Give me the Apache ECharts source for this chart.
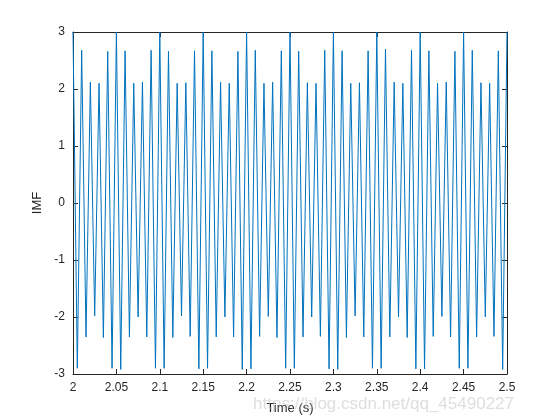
<!DOCTYPE html>
<html>
<head>
<meta charset="utf-8">
<script src="https://cdn.jsdelivr.net/npm/echarts@6/dist/echarts.min.js"></script>
<style>
  html, body { margin: 0; padding: 0; background: #fff; }
  #chart { width: 560px; height: 420px; }
</style>
</head>
<body>
<div id="chart"></div>
<script>
// sample times (s) at each peak / trough
const times = [
  2.000, 2.005, 2.010, 2.015, 2.020, 2.025, 2.030, 2.035, 2.040, 2.045,
  2.050, 2.055, 2.060, 2.065, 2.070, 2.075, 2.080, 2.085, 2.090, 2.095,
  2.100, 2.105, 2.110, 2.115, 2.120, 2.125, 2.130, 2.135, 2.140, 2.145,
  2.150, 2.155, 2.160, 2.165, 2.170, 2.175, 2.180, 2.185, 2.190, 2.195,
  2.200, 2.205, 2.210, 2.215, 2.220, 2.225, 2.230, 2.235, 2.240, 2.245,
  2.250, 2.255, 2.260, 2.265, 2.270, 2.275, 2.280, 2.285, 2.290, 2.295,
  2.300, 2.305, 2.310, 2.315, 2.320, 2.325, 2.330, 2.335, 2.340, 2.345,
  2.350, 2.355, 2.360, 2.365, 2.370, 2.375, 2.380, 2.385, 2.390, 2.395,
  2.400, 2.405, 2.410, 2.415, 2.420, 2.425, 2.430, 2.435, 2.440, 2.445,
  2.450, 2.455, 2.460, 2.465, 2.470, 2.475, 2.480, 2.485, 2.490, 2.495,
  2.500
]
// IMF values
const imf = [
  3.00, -2.90, 2.68, -2.35, 2.12, -1.98, 2.10, -2.36, 2.66, -2.90,
  3.00, -2.92, 2.67, -2.35, 2.10, -2.00, 2.12, -2.35, 2.68, -2.90,
  3.00, -2.90, 2.66, -2.36, 2.10, -1.98, 2.11, -2.34, 2.67, -2.91,
  3.00, -2.90, 2.67, -2.35, 2.12, -2.00, 2.10, -2.35, 2.66, -2.92,
  3.00, -2.91, 2.68, -2.34, 2.10, -1.99, 2.12, -2.36, 2.67, -2.90,
  3.00, -2.90, 2.66, -2.35, 2.11, -2.00, 2.10, -2.34, 2.68, -2.91,
  3.00, -2.92, 2.67, -2.36, 2.10, -1.98, 2.11, -2.35, 2.67, -2.90,
  3.00, -2.90, 2.70, -2.35, 2.12, -2.00, 2.10, -2.36, 2.68, -2.91,
  3.00, -2.91, 2.67, -2.34, 2.10, -1.99, 2.12, -2.35, 2.66, -2.90,
  3.00, -2.90, 2.68, -2.35, 2.11, -2.00, 2.10, -2.34, 2.67, -2.92,
  3.00
]
const xTicks = { min: 2, max: 2.5, step: 0.05 }
const yTicks = { min: -3, max: 3, step: 1 }

const axisColor = '#262626'
const font = 'Liberation Sans, Arial, sans-serif'

const chart = echarts.init(document.getElementById('chart'))
const option = {
  backgroundColor: '#fff',
  animation: false,
  grid: { left: 73, right: 53, top: 32, bottom: 46 },
  xAxis: [
    {
      type: 'value',
      min: xTicks.min,
      max: xTicks.max,
      interval: xTicks.step,
      name: 'Time (s)',
      nameLocation: 'middle',
      nameGap: 28,
      nameTextStyle: { color: axisColor, fontSize: 13, fontFamily: font },
      axisLine: { show: true, onZero: false, lineStyle: { color: axisColor, width: 1 } },
      axisTick: { show: true, inside: true, length: 5, lineStyle: { color: axisColor } },
      axisLabel: {
        color: axisColor, fontSize: 12, fontFamily: font, margin: 8,
        formatter: v => String(Math.round(v * 100) / 100)
      },
      splitLine: { show: false }
    },
    {
      type: 'value',
      position: 'top',
      min: xTicks.min,
      max: xTicks.max,
      interval: xTicks.step,
      axisLine: { show: true, onZero: false, lineStyle: { color: axisColor, width: 1 } },
      axisTick: { show: true, inside: true, length: 5, lineStyle: { color: axisColor } },
      axisLabel: { show: false },
      splitLine: { show: false }
    }
  ],
  yAxis: [
    {
      type: 'value',
      min: yTicks.min,
      max: yTicks.max,
      interval: yTicks.step,
      name: 'IMF',
      nameLocation: 'middle',
      nameGap: 28,
      nameTextStyle: { color: axisColor, fontSize: 13, fontFamily: font },
      axisLine: { show: true, onZero: false, lineStyle: { color: axisColor, width: 1 } },
      axisTick: { show: true, inside: true, length: 5, lineStyle: { color: axisColor } },
      axisLabel: { color: axisColor, fontSize: 12, fontFamily: font, margin: 8 },
      splitLine: { show: false }
    },
    {
      type: 'value',
      position: 'right',
      min: yTicks.min,
      max: yTicks.max,
      interval: yTicks.step,
      axisLine: { show: true, onZero: false, lineStyle: { color: axisColor, width: 1 } },
      axisTick: { show: true, inside: true, length: 5, lineStyle: { color: axisColor } },
      axisLabel: { show: false },
      splitLine: { show: false }
    }
  ],
  series: [
    {
      type: 'line',
      data: times.map((t, i) => [t, imf[i]]),
      showSymbol: false,
      clip: true,
      lineStyle: { color: '#0072BD', width: 1 },
      itemStyle: { color: '#0072BD' }
    }
  ],
  graphic: [
    {
      type: 'text',
      right: 46,
      top: 396,
      style: {
        text: 'https://blog.csdn.net/qq_45490227',
        fill: 'rgba(190,190,190,0.5)',
        font: '17px ' + font
      },
      z: 100
    }
  ]
}
chart.setOption(option)
window.onresize = function () {
  chart.resize()
}
</script>
</body>
</html>
